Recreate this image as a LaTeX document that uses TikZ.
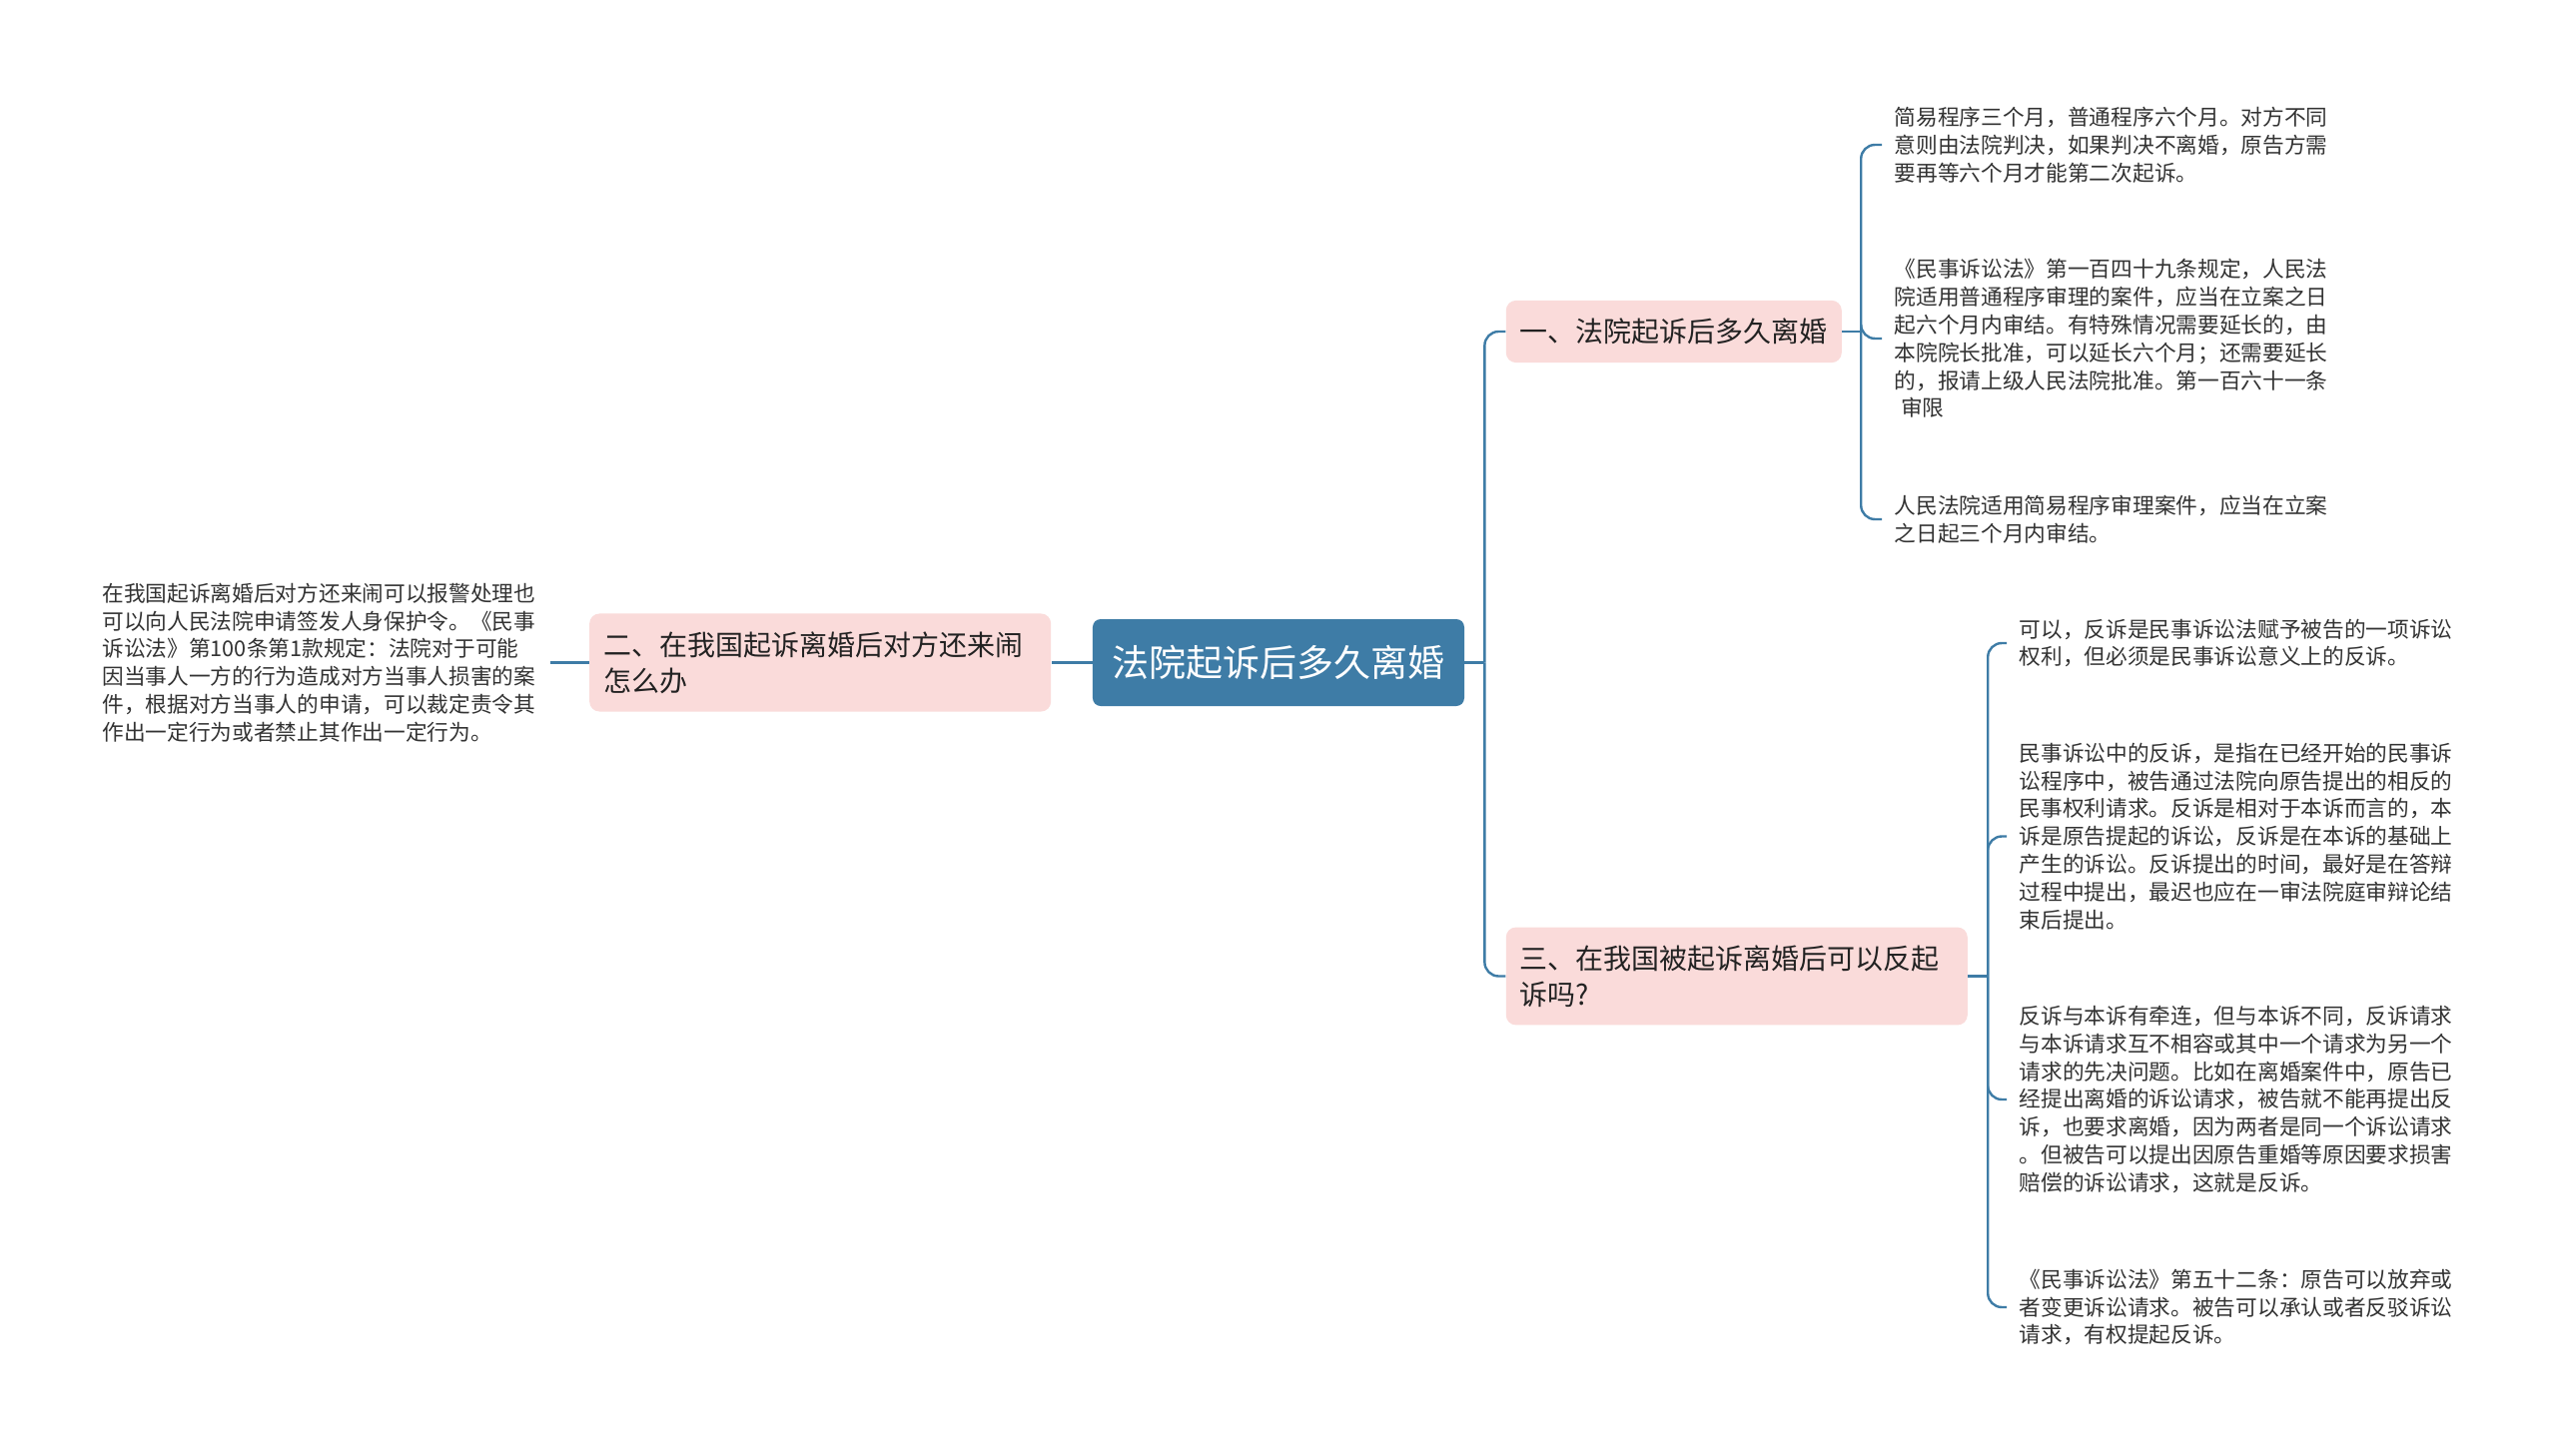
\documentclass[tikz,border=0pt]{standalone}
\usepackage{fontspec}
\setmainfont{Noto Sans CJK SC}
\usepackage{xcolor}
\usepackage{tikz}
\usetikzlibrary{positioning}
\definecolor{rootblue}{HTML}{3E7CA6}
\definecolor{linkblue}{HTML}{3E7CA6}
\definecolor{topicpink}{HTML}{FADBDA}
\definecolor{inkdark}{HTML}{222222}
\definecolor{leafgray}{HTML}{333333}

\begin{document}
\begin{tikzpicture}[
  rootbox/.style={
    fill=rootblue,
    rounded corners=4pt,
    text=white,
    font=\fontsize{18.5pt}{22pt}\selectfont,
    minimum width=186pt,
    minimum height=43.5pt,
    inner sep=0pt
  },
  topic/.style={
    fill=topicpink,
    rounded corners=5pt,
    text=inkdark,
    font=\fontsize{14pt}{18pt}\selectfont,
    align=left,
    inner xsep=7pt,
    inner ysep=9pt
  },
  leaf/.style={
    text=leafgray,
    font=\fontsize{10.85pt}{13.9pt}\selectfont,
    text width=218pt,
    align=left,
    inner xsep=6pt,
    inner ysep=2pt
  },
  link/.style={draw=linkblue,line width=1.2pt,rounded corners=7pt}
]
  \fill[white] (-640pt,-396.75pt) rectangle (640pt,331.75pt);
  \useasboundingbox (-640pt,-396.75pt) rectangle (640pt,331.75pt);

  \node[rootbox] (root) {法院起诉后多久离婚};

  % left side
  \node[topic,text width=217pt,left=20.5pt of root] (two) {二、在我国起诉离婚后对方还来闹\\怎么办};
  \node[leaf,left=19.5pt of two] (twoA) {在我国起诉离婚后对方还来闹可以报警处理也\\可以向人民法院申请签发人身保护令。《民事\\诉讼法》第100条第1款规定：法院对于可能\\因当事人一方的行为造成对方当事人损害的案\\件，根据对方当事人的申请，可以裁定责令其\\作出一定行为或者禁止其作出一定行为。};

  % right side
  \node[topic,right=20.5pt of root,yshift=165.75pt] (one) {一、法院起诉后多久离婚};
  \node[topic,text width=217pt,right=20.5pt of root,yshift=-157pt] (three) {三、在我国被起诉离婚后可以反起\\诉吗?};

  \node[leaf,right=20pt of one,yshift=93.5pt] (oneA) {简易程序三个月，普通程序六个月。对方不同\\意则由法院判决，如果判决不离婚，原告方需\\要再等六个月才能第二次起诉。};
  \node[leaf,right=20pt of one,yshift=-3.5pt] (oneB) {《民事诉讼法》第一百四十九条规定，人民法\\院适用普通程序审理的案件，应当在立案之日\\起六个月内审结。有特殊情况需要延长的，由\\本院院长批准，可以延长六个月；还需要延长\\的，报请上级人民法院批准。第一百六十一条\\\hspace*{0.3em}审限};
  \node[leaf,right=20pt of one,yshift=-94pt] (oneC) {人民法院适用简易程序审理案件，应当在立案\\之日起三个月内审结。};

  \node[leaf,right=19.5pt of three,yshift=166.75pt] (threeA) {可以，反诉是民事诉讼法赋予被告的一项诉讼\\权利，但必须是民事诉讼意义上的反诉。};
  \node[leaf,right=19.5pt of three,yshift=70pt] (threeB) {民事诉讼中的反诉，是指在已经开始的民事诉\\讼程序中，被告通过法院向原告提出的相反的\\民事权利请求。反诉是相对于本诉而言的，本\\诉是原告提起的诉讼，反诉是在本诉的基础上\\产生的诉讼。反诉提出的时间，最好是在答辩\\过程中提出，最迟也应在一审法院庭审辩论结\\束后提出。};
  \node[leaf,right=19.5pt of three,yshift=-61.75pt] (threeC) {反诉与本诉有牵连，但与本诉不同，反诉请求\\与本诉请求互不相容或其中一个请求为另一个\\请求的先决问题。比如在离婚案件中，原告已\\经提出离婚的诉讼请求，被告就不能再提出反\\诉，也要求离婚，因为两者是同一个诉讼请求\\。但被告可以提出因原告重婚等原因要求损害\\赔偿的诉讼请求，这就是反诉。};
  \node[leaf,right=19.5pt of three,yshift=-165.75pt] (threeD) {《民事诉讼法》第五十二条：原告可以放弃或\\者变更诉讼请求。被告可以承认或者反驳诉讼\\请求，有权提起反诉。};

  % connectors
  \draw[link] (root.west) -- (two.east);
  \draw[link] (two.west) -- (twoA.east);
  \draw[link] (root.east) -- ++(10pt,0) coordinate (rootfork);
  \draw[link] (rootfork) |- (one.west);
  \draw[link] (rootfork) |- (three.west);
  \draw[link] (one.east) -- ++(9.5pt,0) coordinate (onefork);
  \foreach \n in {oneA,oneB,oneC}
    \draw[link] (onefork) |- (\n.west);
  \draw[link] (three.east) -- ++(10pt,0) coordinate (threefork);
  \foreach \n in {threeA,threeB,threeC,threeD}
    \draw[link] (threefork) |- (\n.west);
\end{tikzpicture}
\end{document}
